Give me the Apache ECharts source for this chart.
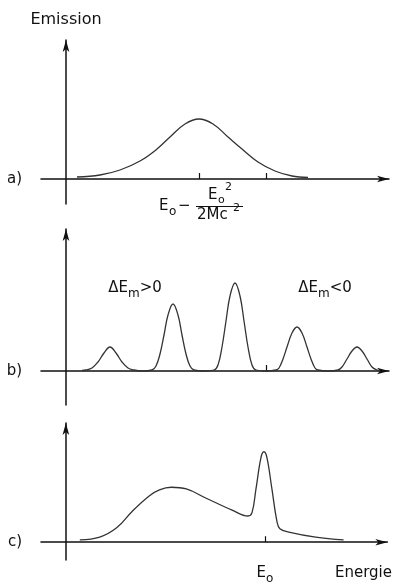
<!DOCTYPE html>
<html>
<head>
<meta charset="utf-8">
<script src="https://cdn.jsdelivr.net/npm/echarts@6/dist/echarts.min.js"></script>
<style>
  html, body { margin: 0; background: #fff; }
  #chart { width: 395px; height: 585px; }
</style>
</head>
<body>
<div id="chart"></div>
<script>
// energy scale: ordinate sits at 0, E0 at 100 (arbitrary units)
const E0 = 100;
const recoilShifted = 66.5; // E0 - E0^2/2Mc^2

// a) free atom: one broad, recoil-shifted Doppler line
const curveA = [
  [5.5, 2], [17, 4], [27, 9], [37, 18], [45.5, 30], [52, 42], [59.5, 55],
  [66.5, 60], [73.5, 55], [81, 42], [88, 30], [96, 17], [104.5, 8],
  [113, 3], [121, 1.5]
];

// b) atom bound in a harmonic potential: discrete sidebands
const curveB = [
  [8, 0.5], [10, 1], [13, 3], [16, 9], [19, 18], [22, 24], [25, 18], [28, 9], [31, 3], [34, 1],
  [38, 0], [43, 1], [45, 5], [47, 17], [49, 36], [51, 56], [53.5, 67], [56, 56], [58, 36], [60, 17], [62, 5], [64, 1],
  [69, 0], [74, 1], [76, 6], [78, 24], [80, 50], [82, 75], [84.5, 88], [87, 75], [89, 50], [91, 24], [93, 6], [95, 1],
  [100, 0], [105, 1], [106.5, 3], [108.5, 12], [110.5, 24], [113, 38], [115.5, 44], [118, 38], [120.5, 24], [122.5, 12], [124.5, 3], [126, 1],
  [131, 0], [136, 1], [138, 4], [140.5, 12], [143, 20], [145.5, 24], [148, 20], [150.5, 12], [153, 4], [155.5, 1], [157, 0.5]
];

// c) solid: broad phonon part plus the recoil-free line at E0
const curveC = [
  [7, 2.7], [17, 6], [25.5, 17], [33.5, 37], [42, 55], [47, 62], [53, 65], [60.5, 63],
  [70.5, 52], [83.5, 38], [91.5, 31], [93.5, 35], [95.5, 63], [98, 100], [99.5, 107],
  [101, 100], [103.5, 63], [106, 25], [107.5, 16], [112, 12], [125.5, 6], [139.5, 2.7]
];

const panelLabels = ['a)', 'b)', 'c)'];
const panelTicks = [[recoilShifted, E0], [E0], [E0]];
const sidebandNotes = ['ΔE{s|m}{t|>0}', 'ΔE{s|m}{t|<0}'];

const ink = '#111';
const curveInk = '#333';
const font = 'DejaVu Sans';

const rich = {
  t: { fontSize: 15, fontFamily: font, color: ink, padding: [0, 0, 4, 0], verticalAlign: 'bottom' },
  s: { fontSize: 12, fontFamily: font, color: ink, verticalAlign: 'bottom' }
};

const grids = [
  { left: 41, right: 6, top: 40, height: 164 },
  { left: 41, right: 6, top: 229, height: 176 },
  { left: 41, right: 6, top: 423, height: 162 }
];
const yRanges = [[-25, 139], [-34, 142], [-21, 141]];

const axisLine = {
  show: true,
  onZero: true,
  symbol: ['none', 'arrow'],
  symbolSize: [5, 12],
  lineStyle: { color: ink, width: 1.5 }
};

const xAxes = grids.map((g, i) => ({
  type: 'value',
  gridIndex: i,
  min: -12.5,
  max: 161.5,
  splitLine: { show: false },
  axisLine: axisLine,
  axisTick: {
    show: true, inside: true, length: 6, customValues: panelTicks[i],
    lineStyle: { color: ink, width: 1.2 }
  },
  axisLabel: { show: false },
  name: panelLabels[i],
  nameLocation: 'start',
  nameGap: 19,
  nameTextStyle: { color: ink, fontSize: 15, fontFamily: font }
}));

// bottom panel carries the E0 label and the axis title
xAxes[2].axisLabel = {
  show: true,
  customValues: [E0, 149.5],
  margin: 6,
  formatter: (v) => (v === E0 ? '{t|E}{s|o}' : '{t|Energie}'),
  rich: rich
};

const yAxes = grids.map((g, i) => ({
  type: 'value',
  gridIndex: i,
  min: yRanges[i][0],
  max: yRanges[i][1],
  splitLine: { show: false },
  axisLine: axisLine,
  axisTick: { show: false },
  axisLabel: { show: false }
}));
yAxes[0].name = 'Emission';
yAxes[0].nameLocation = 'end';
yAxes[0].nameGap = 12;
yAxes[0].nameTextStyle = { color: ink, fontSize: 16, fontFamily: font, align: 'center' };

const lineSeries = (data, i) => ({
  type: 'line',
  xAxisIndex: i,
  yAxisIndex: i,
  data: data,
  showSymbol: false,
  smooth: 0.4,
  lineStyle: { color: curveInk, width: 1.3 },
  silent: true
});

const series = [lineSeries(curveA, 0), lineSeries(curveB, 1), lineSeries(curveC, 2)];
series[1].markPoint = {
  symbol: 'circle',
  symbolSize: 0,
  silent: true,
  label: {
    show: true,
    position: 'inside',
    formatter: (p) => '{t|' + p.name.replace('{s|', '}{s|'),
    rich: rich
  },
  data: [
    { name: sidebandNotes[0], coord: [34.5, 81] },
    { name: sidebandNotes[1], coord: [129.5, 81] }
  ]
};

const chart = echarts.init(document.getElementById('chart'), null, { renderer: 'canvas' });
chart.setOption({
  animation: false,
  backgroundColor: '#fff',
  grid: grids,
  xAxis: xAxes,
  yAxis: yAxes,
  series: series
});

// E0 - E0^2 / 2Mc^2 under the first tick, placed from the axis itself
const p = chart.convertToPixel({ xAxisIndex: 0, yAxisIndex: 0 }, [recoilShifted, 0]);
const txt = (s, dx, dy, size) => ({
  type: 'text', x: p[0] + dx, y: p[1] + dy, silent: true,
  style: {
    text: s, fill: ink, fontSize: size, fontFamily: font,
    align: 'left', verticalAlign: 'top'
  }
});
const barY = Math.round(p[1] + 27) + 0.5;
chart.setOption({
  graphic: [
    txt('E', -40, 20, 15),
    txt('o', -30, 27, 12),
    txt('−', -21, 20, 15),
    txt('E', 9, 9, 15),
    txt('o', 19, 16, 11),
    txt('2', 26, 3, 11),
    {
      type: 'line', silent: true,
      shape: { x1: p[0] - 3, y1: barY, x2: p[0] + 44, y2: barY },
      style: { stroke: ink, lineWidth: 1 }
    },
    txt('2Mc', -2, 29, 15),
    txt('2', 34, 24, 11)
  ]
});
</script>
</body>
</html>
